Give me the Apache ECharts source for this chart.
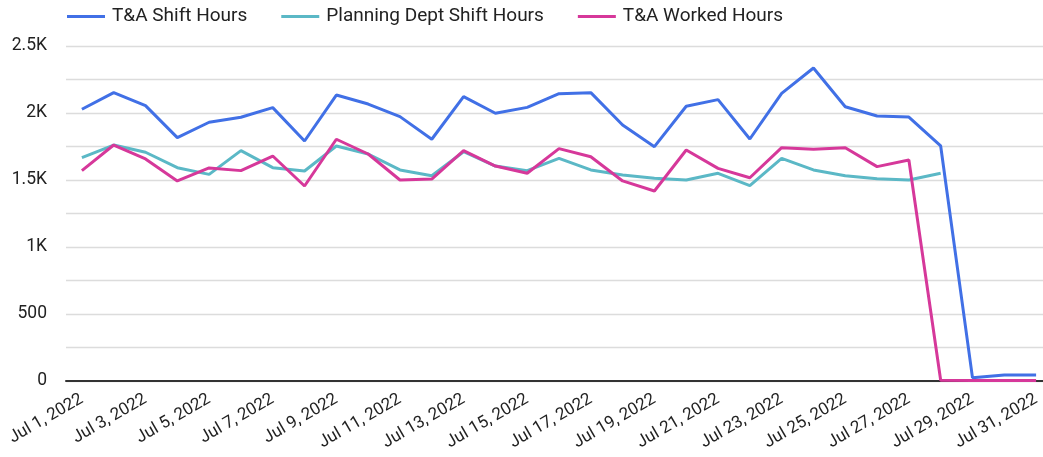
<!DOCTYPE html>
<html><head><meta charset="utf-8">
<script src="https://cdn.jsdelivr.net/npm/echarts@6/dist/echarts.min.js"></script>
<style>html,body{margin:0;padding:0;background:#fff}#c{width:1043px;height:457px}</style>
</head><body><div id="c"></div>
<script>
const categories = ["Jul 1, 2022","Jul 2, 2022","Jul 3, 2022","Jul 4, 2022","Jul 5, 2022","Jul 6, 2022","Jul 7, 2022","Jul 8, 2022","Jul 9, 2022","Jul 10, 2022","Jul 11, 2022","Jul 12, 2022","Jul 13, 2022","Jul 14, 2022","Jul 15, 2022","Jul 16, 2022","Jul 17, 2022","Jul 18, 2022","Jul 19, 2022","Jul 20, 2022","Jul 21, 2022","Jul 22, 2022","Jul 23, 2022","Jul 24, 2022","Jul 25, 2022","Jul 26, 2022","Jul 27, 2022","Jul 28, 2022","Jul 29, 2022","Jul 30, 2022","Jul 31, 2022"];
const taShiftHours = [2028,2152,2055,1816,1931,1968,2040,1791,2134,2067,1973,1804,2122,1998,2042,2144,2152,1910,1749,2050,2100,1806,2147,2336,2047,1978,1970,1754,25,45,45];
const planningShiftHours = [1667,1761,1707,1592,1542,1719,1592,1567,1754,1694,1575,1532,1711,1604,1570,1662,1575,1537,1513,1500,1550,1458,1662,1575,1532,1510,1500,1550,null,null,null];
const taWorkedHours = [1570,1761,1657,1493,1590,1570,1679,1455,1804,1694,1500,1507,1719,1604,1550,1734,1674,1493,1418,1724,1587,1517,1741,1729,1741,1600,1649,5,3,3,3];
const seriesNames = ["T&A Shift Hours","Planning Dept Shift Hours","T&A Worked Hours"];
const colors = ["#4170e6","#5bb8c6","#d6389a"];

const chart = echarts.init(document.getElementById('c'));
const font = 'Roboto, "Noto Sans", sans-serif';
function mk(name, data, color){
  return {name, type:'line', data, symbol:'none', showSymbol:false, connectNulls:false,
    lineStyle:{width:3, color}, itemStyle:{color}};
}
chart.setOption({
  animation:false,
  legend:{top:2, left:62, itemWidth:38, itemHeight:3, itemGap:34,
    icon:'rect',
    textStyle:{fontFamily:font, fontSize:19, color:'#222', padding:[0,0,0,2]},
    data:seriesNames},
  grid:{left:66, width:986, top:46, bottom:76, containLabel:false, outerBoundsMode:'none'},
  xAxis:{type:'category', data:categories, boundaryGap:true,
    axisLine:{show:true, lineStyle:{color:'#333', width:2}},
    axisTick:{show:false},
    axisLabel:{interval:1, rotate:30, fontFamily:font, fontSize:17, color:'#222', margin:17}},
  yAxis:{type:'value', min:0, max:2500, interval:250,
    axisLine:{show:false}, axisTick:{show:false},
    splitLine:{lineStyle:{color:'#dcdcdc', width:1.3}},
    axisLabel:{fontFamily:font, fontSize:17.5, color:'#222', margin:19,
      formatter:v=> v%500!==0 ? '' : (v>=1000 ? (v/1000)+'K' : String(v))}},
  series:[mk(seriesNames[0],taShiftHours,colors[0]), mk(seriesNames[1],planningShiftHours,colors[1]), mk(seriesNames[2],taWorkedHours,colors[2])]
});
</script></body></html>
